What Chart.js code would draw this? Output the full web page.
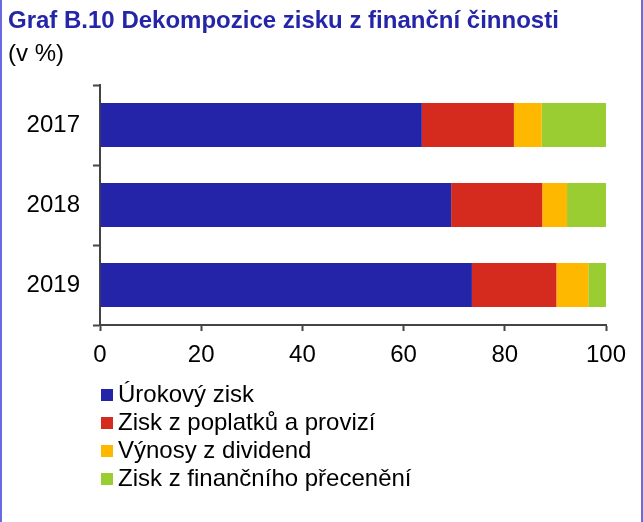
<!DOCTYPE html>
<html>
<head>
<meta charset="utf-8">
<script src="https://cdn.jsdelivr.net/npm/chart.js@4"></script>
<style>
  html, body { margin: 0; padding: 0; background: #fff; }
  #wrap { position: relative; width: 643px; height: 522px; overflow: hidden; font-family: "Liberation Sans", Arial, sans-serif; }
  #vis { position: absolute; left: 0; top: 0; }
  .edge { position: absolute; top: 0; width: 2px; height: 522px; background: #6a6ae0; }
  #title { position: absolute; left: 8px; top: 6px; font-size: 24px; font-weight: bold; color: #2525a8; white-space: nowrap; }
  #sub { position: absolute; left: 8px; top: 39px; font-size: 24px; color: #000; }
  #legend { position: absolute; left: 101px; top: 380px; font-size: 24px; color: #000; }
  #legend div { height: 28px; line-height: 28px; white-space: nowrap; }
  #legend span { display: inline-block; width: 12px; height: 12px; margin-right: 5px; vertical-align: 1px; }
</style>
</head>
<body>
<div id="wrap">
  <canvas id="vis" width="643" height="522"></canvas>
  <div id="title">Graf B.10 Dekompozice zisku z finanční činnosti</div>
  <div id="sub">(v %)</div>
  <div id="legend"></div>
  <div class="edge" style="left:0"></div>
  <div class="edge" style="left:641px"></div>
</div>
<script>
const years = ['2017', '2018', '2019'];
const seriesNames = ['Úrokový zisk', 'Zisk z poplatků a provizí', 'Výnosy z dividend', 'Zisk z finančního přecenění'];
const urokovyZisk = [63.6, 69.4, 73.5];
const poplatky = [18.2, 18.0, 16.7];
const dividendy = [5.5, 4.9, 6.3];
const preceneni = [12.7, 7.7, 3.5];
const xTicks = [0, 20, 40, 60, 80, 100];

const colors = ['#2424a8', '#d52b1e', '#ffb800', '#9acd32'];
const font = { family: '"Liberation Sans", Arial, sans-serif', size: 24 };

const ctx = document.getElementById('vis').getContext('2d');
const chart = new Chart(ctx, {
    type: 'bar',
    data: {
        labels: years,
        datasets: [urokovyZisk, poplatky, dividendy, preceneni].map((d, i) => ({
            label: seriesNames[i],
            data: d,
            backgroundColor: colors[i],
            borderWidth: 0,
            barPercentage: 0.55,
            categoryPercentage: 1
        }))
    },
    options: {
        indexAxis: 'y',
        responsive: false,
        animation: false,
        layout: { padding: { top: 85, left: 0, right: 37, bottom: 152 } },
        plugins: {
            legend: { display: false },
            title: { display: false },
            tooltip: { enabled: false }
        },
        scales: {
            x: {
                stacked: true,
                min: 0,
                max: 100,
                afterBuildTicks: s => { s.ticks = xTicks.map(v => ({ value: v })); },
                afterFit: s => { s.height = 45; },
                border: { color: '#444', width: 2 },
                grid: { drawOnChartArea: false, tickLength: 6, tickColor: '#444', tickWidth: 2 },
                ticks: { color: '#000', font: font, padding: 10, maxRotation: 0 }
            },
            y: {
                stacked: true,
                afterFit: s => { s.width = 100; },
                border: { color: '#444', width: 2 },
                grid: { offset: true, drawOnChartArea: false, tickLength: 7, tickColor: '#444', tickWidth: 2 },
                ticks: { color: '#000', font: font, padding: 13 }
            }
        }
    }
});

// legend as a column, items taken from the chart
const items = chart.options.plugins.legend.labels.generateLabels(chart);
document.getElementById('legend').innerHTML = items.map(it =>
    '<div><span style="background:' + it.fillStyle + '"></span>' + it.text + '</div>').join('');
</script>
</body>
</html>
